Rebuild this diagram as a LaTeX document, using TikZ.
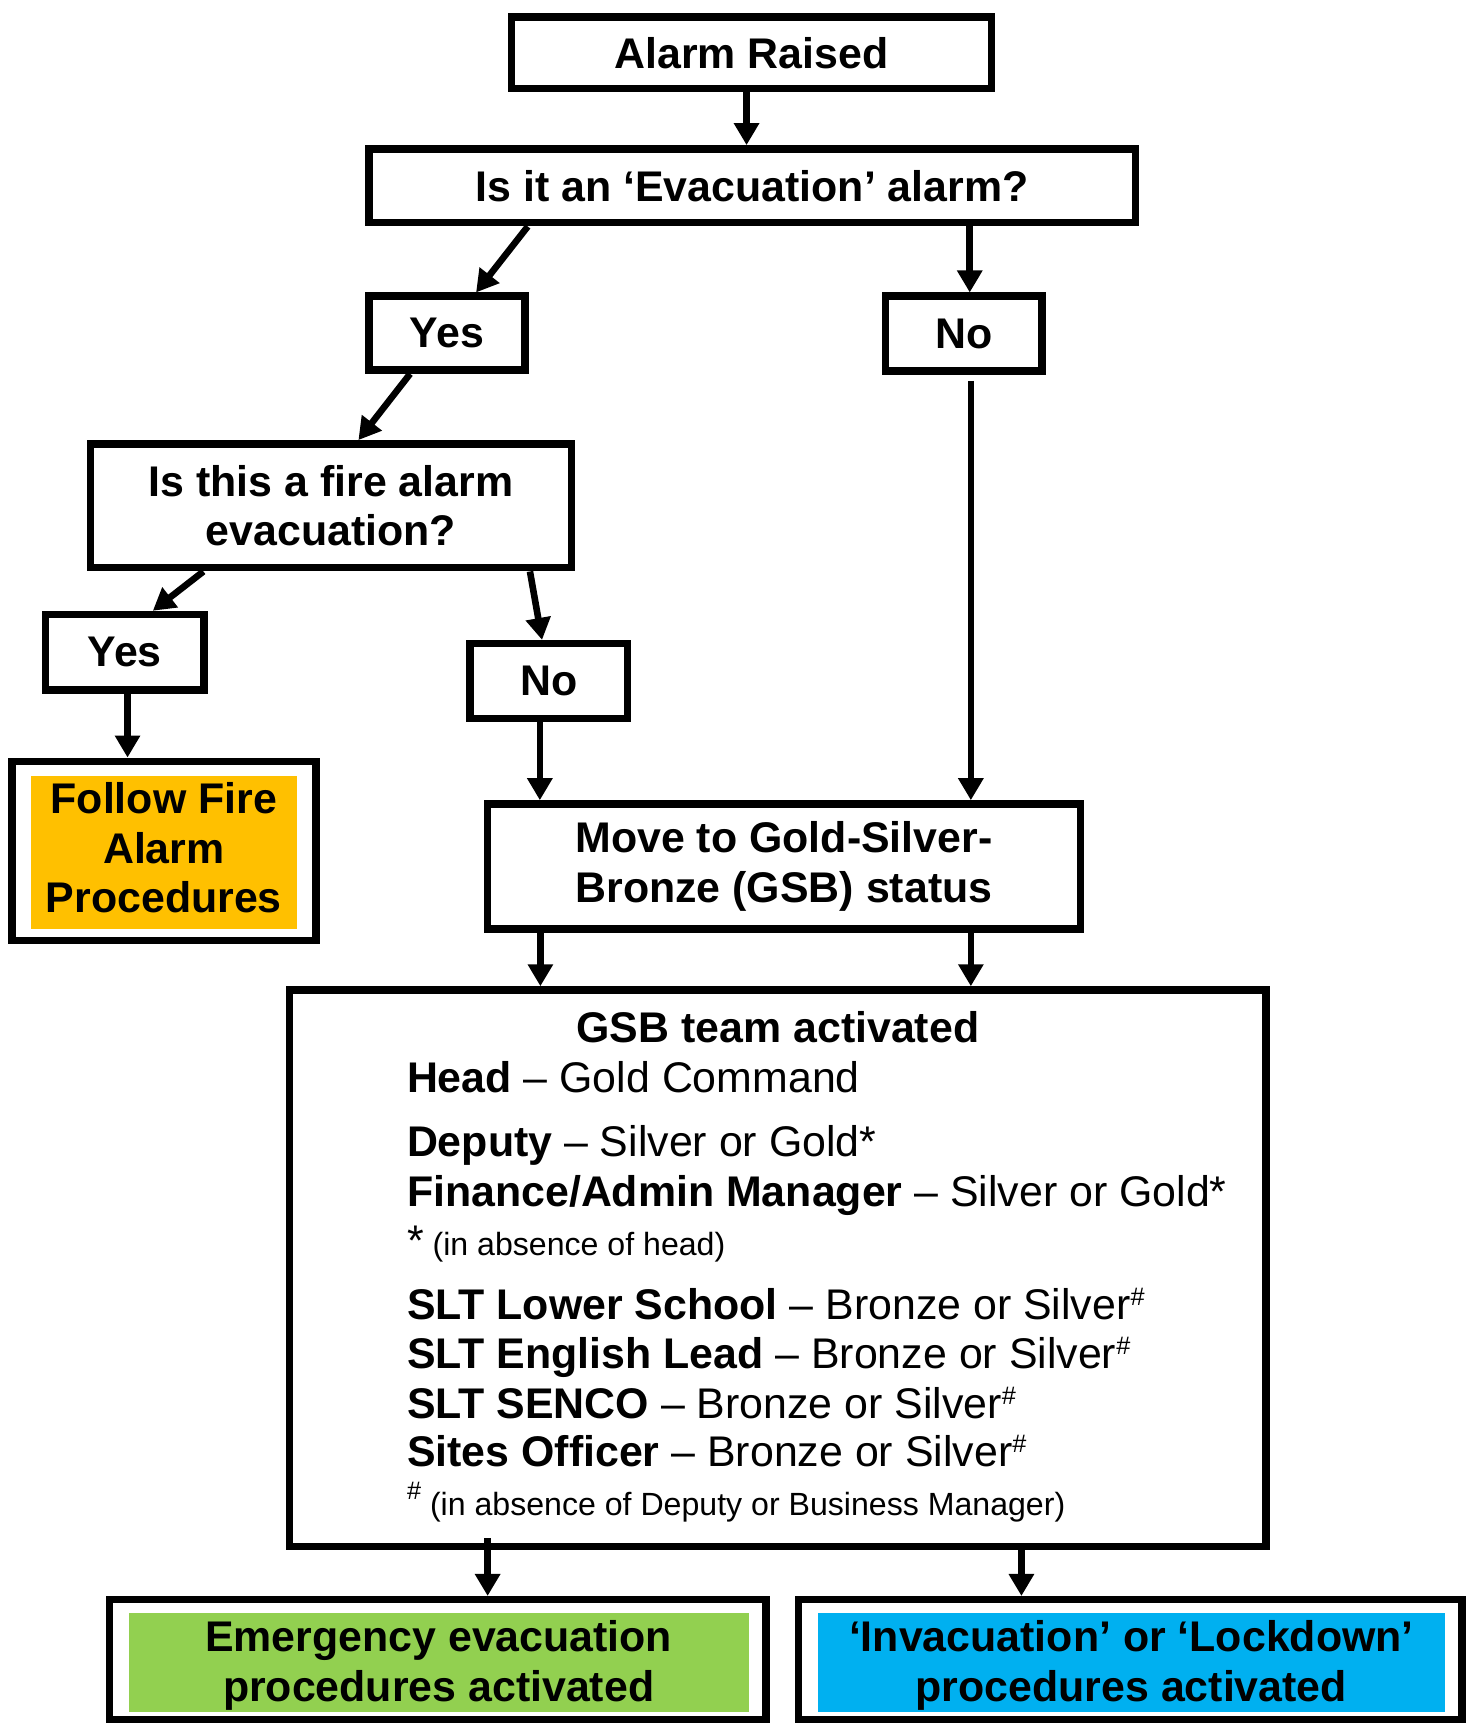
\documentclass[tikz,border=0pt]{standalone}
\usepackage{fontspec}
\setmainfont{Liberation Sans}
\usetikzlibrary{arrows.meta,calc}
\definecolor{firefill}{HTML}{FFC000}
\definecolor{evacfill}{HTML}{92D050}
\definecolor{invacfill}{HTML}{00B0F0}
\newcommand\bigbf{\fontsize{39}{45}\selectfont\bfseries}
\newcommand\bigrm{\fontsize{39}{45}\selectfont}
\newcommand\smallrm{\fontsize{29.2}{34}\selectfont}
\newcommand\hashsup[1]{\raisebox{#1}{\fontsize{23}{23}\selectfont\#}}
\tikzset{
  flowbox/.style={draw, line width=6.8pt, rectangle, inner sep=0pt, align=center, font=\bigbf},
  fillbox/.style={rectangle, inner sep=0pt, align=center, font=\bigbf},
  flowarrow/.style={line width=6pt, -{Triangle[length=20pt,width=22pt]}},
  listline/.style={anchor=base west, inner sep=0pt, font=\bigrm},
}
\begin{document}
\begin{tikzpicture}[x=1pt,y=-1pt]
\useasboundingbox (0,0) rectangle (1337,1568);

% boxes
\node[flowbox, minimum width=436.2pt, minimum height=65.2pt] (alarm) at (683.5,48) {Alarm Raised};
\node[flowbox, minimum width=697.2pt, minimum height=67.2pt] (evac) at (684,169) {Is it an ‘Evacuation’ alarm?};
\node[flowbox, minimum width=142.2pt, minimum height=67.2pt] (yes1) at (406.5,303) {Yes};
\node[flowbox, minimum width=142.2pt, minimum height=68.2pt] (no1) at (876.5,303.5) {No};
\node[flowbox, minimum width=437.2pt, minimum height=112.7pt] (fire) at (301,460) {Is this a fire alarm\\evacuation?};
\node[flowbox, minimum width=144.2pt, minimum height=68.7pt] (yes2) at (113.5,593.25) {Yes};
\node[flowbox, minimum width=143.2pt, minimum height=68.2pt] (no2) at (499,619.5) {No};
\node[flowbox, minimum width=276.6pt, minimum height=163.2pt] (follow) at (149.3,774) {};
\node[fillbox, fill=firefill, minimum width=242pt, minimum height=139pt, text depth=9pt] (followtxt) at (149,775.5) {Follow Fire\\Alarm\\Procedures};
\node[flowbox, minimum width=539.2pt, minimum height=113.6pt] (move) at (713,788) {Move to Gold-Silver-\\Bronze (GSB) status};
\node[flowbox, minimum width=888.2pt, minimum height=506.2pt] (gsb) at (707.5,1153.5) {};
\node[flowbox, minimum width=597.2pt, minimum height=109.1pt] (emerg) at (398,1509.5) {};
\node[fillbox, fill=evacfill, minimum width=564pt, minimum height=90pt, text depth=3pt] (emergtxt) at (399,1512) {Emergency evacuation\\procedures activated};
\node[flowbox, minimum width=603.2pt, minimum height=109.1pt] (invac) at (1028,1509.5) {};
\node[fillbox, fill=invacfill, minimum width=570pt, minimum height=90pt, text depth=3pt] (invactxt) at (1029,1512) {‘Invacuation’ or ‘Lockdown’\\procedures activated};

% GSB team text
\node[anchor=base, inner sep=0pt, font=\bigbf] (gsbtitle) at (707.5,948) {GSB team activated};
\node[listline] (lhead) at (370,994) {\textbf{Head} – Gold Command};
\node[listline] (ldep) at (370,1052) {\textbf{Deputy} – Silver or Gold*};
\node[listline] (lfin) at (370,1097) {\textbf{Finance/Admin Manager} – Silver or Gold*};
\node[listline] (lnote1) at (370,1142) {*{\smallrm\ (in absence of head)}};
\node[listline] (lslt) at (370,1200) {\textbf{SLT Lower School} – Bronze or Silver\hashsup{13pt}};
\node[listline] (leng) at (370,1245) {\textbf{SLT English Lead} – Bronze or Silver\hashsup{13pt}};
\node[listline] (lsen) at (370,1290) {\textbf{SLT SENCO} – Bronze or Silver\hashsup{13pt}};
\node[listline] (lsite) at (370,1334) {\textbf{Sites Officer} – Bronze or Silver\hashsup{13pt}};
\node[listline] (lnote2) at (370,1378) {\smallrm\hashsup{14pt}\ (in absence of Deputy or Business Manager)};

% connectors (node anchors already lie on the outer edge of the borders)
\draw[flowarrow] ($(alarm.south)+(-4.5,0)$) -- ($(evac.north)+(-5,0)$);
\draw[flowarrow] ($(evac.south)+(-204,0)$) -- ($(yes1.north)+(26.5,0)$);
\draw[flowarrow] ($(evac.south)+(198,0)$) -- ($(no1.north)+(5.5,0)$);
\draw[flowarrow] ($(yes1.south)+(-33.5,0)$) -- ($(fire.north)+(25,0)$);
\draw[flowarrow] ($(no1.south)+(6.5,5.5)$) -- ($(move.north)+(170,0)$);
\draw[flowarrow] ($(fire.south)+(-116,0)$) -- ($(yes2.north)+(25.5,0)$);
\draw[flowarrow] ($(fire.south)+(181,0)$) -- ($(no2.north)+(-6,0)$);
\draw[flowarrow] ($(yes2.south)+(2.5,0)$) -- ($(follow.north)+(-33.3,0)$);
\draw[flowarrow] ($(no2.south)+(-8,0)$) -- ($(move.north)+(-222,0)$);
\draw[flowarrow] ($(move.south)+(-221.5,0)$) -- ($(gsb.north)+(-216,0)$);
\draw[flowarrow] ($(move.south)+(170,0)$) -- ($(gsb.north)+(175.5,0)$);
\draw[flowarrow] ($(gsb.south)+(-264,-11)$) -- ($(emerg.north)+(45.5,0)$);
\draw[flowarrow] ($(gsb.south)+(221.5,0)$) -- ($(invac.north)+(-99,0)$);
\end{tikzpicture}
\end{document}
